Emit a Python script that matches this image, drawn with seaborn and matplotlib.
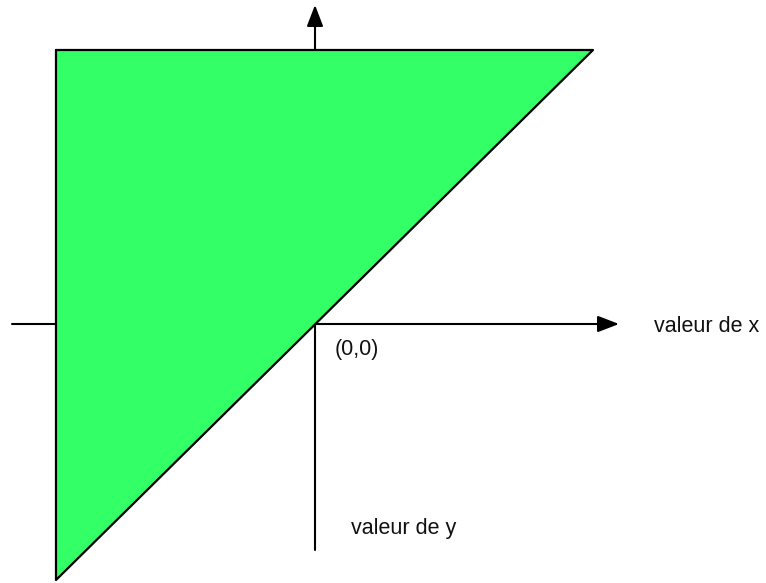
import pandas as pd
import numpy as np

import seaborn as sns
import matplotlib.pyplot as plt

# triangle corners (origin of the axes is (0,0))
tri_x = [-259, 278, -259]
tri_y = [274, 274, -256]

# axis arrows: (start, tip)
xaxis_x = [-303, 304]
yaxis_y = [-226, 319]

labels = ['valeur de x', '(0,0)', 'valeur de y']
label_x = [339, 20, 36]
label_y = [-8, -31, -210]

sns.set_theme(style='white')
plt.rcParams['font.family'] = ['Liberation Sans', 'DejaVu Sans']

fig = plt.figure(figsize=(7.66, 5.83), dpi=100)
ax = fig.add_axes([0, 0, 1, 1])

arrow = dict(arrowstyle='-|>,head_length=1.3,head_width=0.5', mutation_scale=10,
             lw=1.5, color='black', shrinkA=0, shrinkB=0)
ax.annotate('', xy=(xaxis_x[1], 0), xytext=(xaxis_x[0], 0), arrowprops=arrow, zorder=1)
ax.annotate('', xy=(0, yaxis_y[1]), xytext=(0, yaxis_y[0]), arrowprops=arrow, zorder=1)

# green triangle on top of the axes
ax.fill(tri_x, tri_y, color='#33ff66', zorder=2)
outline = pd.DataFrame({'x': tri_x + tri_x[:1], 'y': tri_y + tri_y[:1]})
sns.lineplot(data=outline, x='x', y='y', sort=False, estimator=None, color='black',
             lw=1.6, ax=ax, zorder=3)

for t, tx, ty in zip(labels, label_x, label_y):
    ax.text(tx, ty, t, fontsize=15.5, color='#111111', ha='left', va='baseline')

ax.set_xlim(-315, 451)
ax.set_ylim(-259, 324)
ax.axis('off')

fig.savefig('out.png', dpi=100, facecolor='white')
